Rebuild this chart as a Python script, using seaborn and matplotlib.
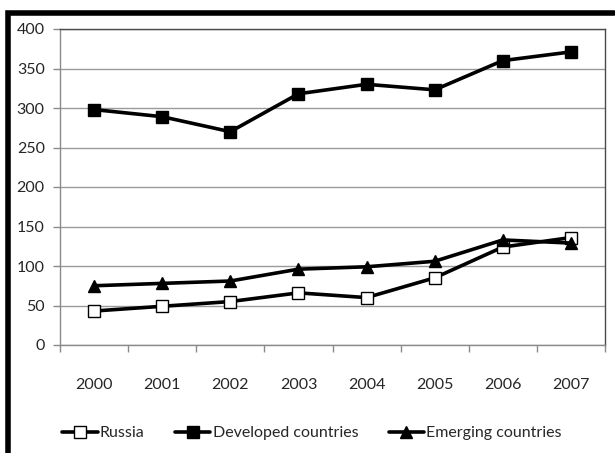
import numpy as np
import pandas as pd
import matplotlib
matplotlib.use("Agg")
import matplotlib.pyplot as plt
import seaborn as sns
from matplotlib.ticker import FixedLocator

# Data
years = ["2000", "2001", "2002", "2003", "2004", "2005", "2006", "2007"]
russia = [43, 49, 55, 66, 60, 85, 124, 136]
developed = [298, 289, 270, 318, 330, 323, 360, 371]
emerging = [75, 78, 81, 96, 99, 106, 133, 129]
y_ticks = [0, 50, 100, 150, 200, 250, 300, 350, 400]

sns.set_style("white")
plt.rcParams['font.family'] = ['Lato', 'DejaVu Sans']

fig = plt.figure(figsize=(6.15, 4.53), dpi=100)
ax = fig.add_axes([60 / 615, 1 - 345 / 453, 545 / 615, 316 / 453])

series = [
    ("Russia", russia, "s", "white"),
    ("Developed countries", developed, "s", "black"),
    ("Emerging countries", emerging, "^", "black"),
]
for name, vals, mk, face in series:
    sns.lineplot(x=years, y=vals, ax=ax, color="black", linewidth=2.6,
                 marker=mk, markersize=8.5 if mk == "s" else 9,
                 markerfacecolor=face, markeredgecolor="black",
                 markeredgewidth=1.0, label=name)

ax.set_xlim(-0.5, len(years) - 0.5)
ax.set_ylim(0, 400)
ax.set_yticks(y_ticks)
ax.yaxis.grid(True, color="#9a9a9a", linewidth=1.0)
ax.set_axisbelow(True)

# category tick marks between the categories, labels centered
ax.xaxis.set_minor_locator(FixedLocator(np.arange(-0.5, len(years), 1.0)))
ax.tick_params(axis="x", which="major", length=0, pad=24, labelsize=11.5)
ax.tick_params(axis="x", which="minor", length=5, width=1, color="#8a8a8a", bottom=True)
ax.tick_params(axis="y", which="major", length=5, width=1, color="#8a8a8a", pad=6,
               labelsize=11.5, left=True)

for side in ["left", "bottom"]:
    ax.spines[side].set_color("#8a8a8a")
    ax.spines[side].set_linewidth(1.0)
for side in ["top", "right"]:
    ax.spines[side].set_color("#4a4a4a")
    ax.spines[side].set_linewidth(1.0)

ax.set_xlabel("")
ax.set_ylabel("")

handles, labels = ax.get_legend_handles_labels()
ax.get_legend().remove()
fig.legend(handles, labels, loc="center", bbox_to_anchor=(312 / 615, 1 - 433 / 453),
           ncol=3, frameon=False, fontsize=11.5, handlelength=2.2,
           handletextpad=0.15, columnspacing=1.9)

# black frame on top and left edge
fig.add_artist(plt.Line2D([7.5 / 615, 7.5 / 615, 614 / 615],
                          [0, 1 - 12.5 / 453, 1 - 12.5 / 453],
                          color="black", linewidth=4.0, solid_joinstyle="miter",
                          transform=fig.transFigure))

fig.savefig("out.png", dpi=100)
